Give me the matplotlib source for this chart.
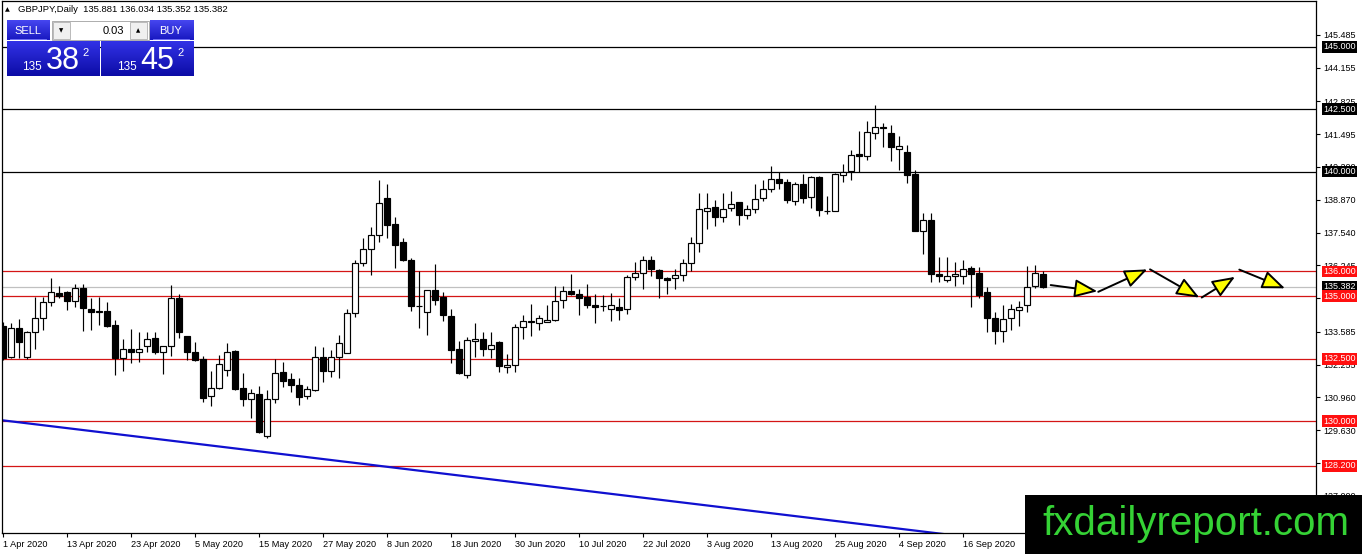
import numpy as np
import pandas as pd
import matplotlib
matplotlib.use("Agg")
import matplotlib.pyplot as plt
from matplotlib.colors import to_rgb
from matplotlib.patches import Rectangle

plt.rcParams['font.family'] = ['Liberation Sans', 'DejaVu Sans']

# daily bars, 1 Apr - 30 Sep 2020
dates = pd.bdate_range("2020-04-01", "2020-09-30")

opens = [133.82, 132.55, 133.71, 132.55, 133.55, 134.12, 134.76, 135.13, 135.19, 134.83,
         135.32, 134.49, 134.38, 134.40, 133.85, 132.51, 132.88, 132.78, 132.99, 133.31,
         132.75, 132.99, 134.92, 133.42, 132.75, 132.47, 131.01, 131.32, 132.05, 132.79,
         131.32, 130.88, 131.10, 129.41, 130.88, 131.97, 131.68, 131.46, 131.01, 131.25,
         132.58, 132.01, 132.58, 132.71, 134.34, 136.33, 136.89, 137.45, 138.96, 137.90,
         137.19, 136.46, 134.60, 134.36, 135.27, 134.96, 134.23, 132.87, 131.84, 133.22,
         133.30, 132.90, 133.18, 132.18, 132.26, 133.78, 133.96, 133.94, 133.98, 134.03,
         134.84, 135.23, 135.11, 134.99, 134.64, 134.60, 134.50, 134.56, 134.50, 135.79,
         135.93, 136.45, 136.05, 135.74, 135.75, 135.87, 136.33, 137.13, 138.41, 138.57,
         138.17, 138.53, 138.78, 138.25, 138.49, 138.95, 139.32, 139.72, 139.60, 138.83,
         139.52, 138.99, 139.80, 138.41, 138.41, 139.88, 140.03, 140.69, 140.62, 141.55,
         141.79, 141.55, 140.92, 140.77, 139.89, 137.60, 138.06, 135.91, 135.64, 135.80,
         135.80, 136.14, 135.94, 135.18, 134.12, 133.59, 134.12, 134.45, 134.65, 135.41,
         135.881]
highs = [133.95, 133.93, 134.09, 133.60, 134.96, 134.96, 135.72, 135.40, 135.23, 135.50,
         135.50, 134.92, 134.96, 134.76, 134.06, 133.29, 133.69, 133.55, 133.58, 133.55,
         133.00, 135.46, 135.09, 133.42, 133.15, 132.61, 131.99, 132.66, 133.14, 132.83,
         131.91, 131.28, 131.41, 131.25, 132.47, 132.38, 131.91, 131.74, 131.41, 133.01,
         132.98, 132.83, 133.43, 134.49, 136.46, 137.33, 137.79, 139.68, 139.52, 138.19,
         137.35, 136.53, 136.00, 135.24, 136.29, 135.16, 134.49, 133.20, 133.36, 133.94,
         133.56, 133.58, 133.20, 132.67, 133.87, 134.25, 134.68, 134.25, 134.64, 135.42,
         135.42, 135.89, 135.31, 135.48, 135.08, 135.05, 135.15, 134.95, 135.87, 136.38,
         136.60, 136.60, 136.11, 135.79, 136.09, 136.49, 137.36, 139.16, 139.16, 138.86,
         139.15, 139.22, 138.80, 138.65, 139.50, 139.68, 140.23, 140.00, 139.72, 139.60,
         139.92, 139.84, 139.84, 139.02, 139.96, 140.29, 140.85, 141.62, 142.02, 142.68,
         141.95, 141.85, 141.41, 141.05, 140.05, 138.35, 138.35, 136.57, 136.57, 136.36,
         136.47, 136.20, 136.17, 135.38, 134.38, 134.65, 134.69, 134.82, 136.22, 136.25,
         136.034]
lows = [132.45, 132.51, 132.51, 132.50, 132.88, 133.66, 134.63, 134.92, 134.46, 134.56,
        133.62, 133.66, 133.85, 133.76, 131.84, 132.01, 132.32, 132.35, 132.78, 132.68,
        131.88, 132.59, 133.31, 132.46, 132.42, 130.77, 130.61, 131.28, 131.81, 131.25,
        130.61, 130.11, 129.52, 129.31, 130.74, 131.38, 131.17, 130.64, 130.90, 131.21,
        131.57, 131.78, 131.73, 132.71, 134.18, 136.20, 135.86, 137.19, 137.33, 136.13,
        136.40, 134.40, 133.71, 133.44, 134.67, 134.00, 132.34, 131.87, 131.74, 132.57,
        132.61, 132.54, 131.97, 131.91, 131.98, 133.30, 133.40, 133.64, 133.96, 134.00,
        134.54, 135.04, 134.25, 134.54, 133.94, 134.41, 134.00, 134.07, 134.30, 135.66,
        135.28, 135.82, 134.95, 135.11, 135.31, 135.62, 136.01, 136.76, 137.70, 137.80,
        137.98, 138.41, 137.85, 138.09, 138.35, 138.83, 139.19, 139.30, 138.73, 138.67,
        138.75, 138.53, 138.23, 138.30, 138.41, 139.59, 139.65, 140.00, 140.48, 141.29,
        140.98, 140.42, 140.05, 139.55, 137.60, 136.71, 135.56, 135.56, 135.56, 135.41,
        135.51, 134.58, 134.95, 133.55, 133.09, 133.15, 133.63, 133.82, 134.37, 135.35,
        135.352]
closes = [132.51, 133.71, 133.15, 133.55, 134.12, 134.76, 135.16, 135.03, 134.80, 135.32,
          134.52, 134.38, 134.40, 133.82, 132.51, 132.88, 132.78, 132.88, 133.29, 132.75,
          132.99, 134.92, 133.55, 132.78, 132.46, 130.93, 131.33, 132.30, 132.78, 131.28,
          130.88, 131.14, 129.57, 130.88, 131.94, 131.62, 131.46, 130.97, 131.28, 132.58,
          132.01, 132.58, 133.11, 134.34, 136.33, 136.89, 137.45, 138.76, 137.86, 137.06,
          136.46, 134.60, 134.60, 135.24, 134.84, 134.27, 132.85, 131.94, 133.24, 133.30,
          132.90, 133.06, 132.21, 132.26, 133.78, 134.01, 133.99, 134.14, 134.05, 134.81,
          135.21, 135.09, 134.95, 134.65, 134.58, 134.60, 134.64, 134.46, 135.79, 135.95,
          136.44, 136.11, 135.75, 135.67, 135.87, 136.32, 137.13, 138.50, 138.53, 138.17,
          138.49, 138.69, 138.25, 138.49, 138.92, 139.32, 139.72, 139.55, 138.86, 139.52,
          138.94, 139.77, 138.46, 138.41, 139.89, 139.97, 140.65, 140.62, 141.57, 141.79,
          141.74, 140.98, 141.04, 139.87, 137.60, 138.06, 135.88, 135.80, 135.82, 135.90,
          136.11, 135.88, 135.05, 134.14, 133.61, 134.11, 134.48, 134.58, 135.38, 135.94,
          135.382]

black_levels = [145.0, 142.5, 140.0]
red_levels = [136.0, 135.0, 132.5, 130.0, 128.2]
bid_price = 135.382

# trendline anchors (bar index, price)
trend_x = [-0.375, 116.5]
trend_y = [130.04, 125.51]

# projected path drawn as arrows
proj_x0 = [130.96, 136.91, 143.38, 149.84, 154.54]
proj_y0 = [135.45, 135.18, 136.08, 134.95, 136.07]
proj_x1 = [136.79, 143.04, 149.54, 154.00, 160.25]
proj_y1 = [135.20, 136.08, 134.95, 135.78, 135.32]

ytick_vals = [145.485, 144.155, 142.825, 141.495, 140.200, 138.870, 137.540,
              136.245, 134.915, 133.585, 132.255, 130.960, 129.630, 128.300, 127.000]

W, H = 1362, 554
fig = plt.figure(figsize=(W / 100, H / 100), dpi=100)
ax = fig.add_axes([2 / W, 21 / H, 1314 / W, 532 / H])

x = np.arange(len(dates))
o = np.array(opens)
c = np.array(closes)
up = c >= o
bottom = np.minimum(o, c)
height = np.maximum(np.abs(c - o), 0.015)

ax.vlines(x, lows, highs, color='black', lw=0.85, zorder=3)
ax.bar(x[up], height[up], bottom=bottom[up], width=0.68, color='white',
       edgecolor='black', linewidth=0.85, zorder=4)
ax.bar(x[~up], height[~up], bottom=bottom[~up], width=0.68, color='black',
       edgecolor='black', linewidth=0.85, zorder=4)

for lvl in black_levels:
    ax.axhline(lvl, color='black', lw=0.9, zorder=2)
for lvl in red_levels:
    ax.axhline(lvl, color='#d41515', lw=0.9, zorder=2)
ax.axhline(bid_price, color='#c0c0c0', lw=0.9, zorder=1)

# trendline extended as a ray
slope = (trend_y[1] - trend_y[0]) / (trend_x[1] - trend_x[0])
tx = np.array([trend_x[0], 170])
ax.plot(tx, trend_y[0] + slope * (tx - trend_x[0]), color='#1010d0', lw=1.6, zorder=2)

for a, b, cc, d in zip(proj_x0, proj_y0, proj_x1, proj_y1):
    ax.annotate('', xy=(cc, d), xytext=(a, b),
                arrowprops=dict(arrowstyle='-|>,head_length=1.0,head_width=0.4',
                                mutation_scale=14, lw=1.4, facecolor='#ffff00',
                                edgecolor='black', shrinkA=0, shrinkB=0),
                zorder=5)

ax.set_xlim(-0.125, 164.125)
ax.set_ylim(125.51, 146.84)

ax.yaxis.tick_right()
ax.set_yticks(ytick_vals)
ax.set_yticklabels([f"{v:.3f}" for v in ytick_vals])
ax.tick_params(axis='y', direction='out', length=3, width=0.8, pad=2, labelsize=6.5)

tick_idx = x[::8]
ax.set_xticks(tick_idx)
ax.set_xticklabels([f"{dates[i].day} {dates[i].strftime('%b %Y')}" for i in tick_idx], ha='left')
ax.tick_params(axis='x', direction='out', length=3, width=0.8, pad=2, labelsize=6.6)
for sp in ax.spines.values():
    sp.set_linewidth(0.9)


def price_box(y, text, fc):
    ax.annotate(text, xy=(1, y), xycoords=ax.get_yaxis_transform(),
                xytext=(7, 0), textcoords='offset pixels', ha='left', va='center',
                color='white', fontsize=6.5, annotation_clip=False, zorder=6,
                bbox=dict(boxstyle='square,pad=0.15', fc=fc, ec='none'))


for lvl in black_levels:
    price_box(lvl, f"{lvl:.3f}", 'black')
price_box(bid_price, f"{bid_price:.3f}", 'black')
for lvl in red_levels:
    price_box(lvl, f"{lvl:.3f}", '#ff1010')

# overlay in pixel units: header, trade panel, watermark
ov = fig.add_axes([0, 0, 1, 1])
ov.set_zorder(10)


def grad_box(x0, y0, w, h, top, bot):
    g = np.linspace(0, 1, 40)[:, None, None]
    c0 = np.array(to_rgb(top))
    c1 = np.array(to_rgb(bot))
    img = c0 + (c1 - c0) * g
    ov.imshow(img, extent=(x0, x0 + w, y0 + h, y0), aspect='auto',
              interpolation='bilinear', zorder=1)


ov.text(7, 10, '\u25b2', fontsize=4.5, ha='center', va='center', family='DejaVu Sans')
ov.text(18, 10, 'GBPJPY,Daily  135.881 136.034 135.352 135.382', fontsize=6.8,
        va='center', ha='left')

grad_box(6.7, 20.5, 42.5, 20, '#4646f0', '#1818c0')
grad_box(149.5, 20.5, 43.5, 20, '#4646f0', '#1818c0')
ov.plot([10, 46], [39, 39], color='#8080ff', lw=0.6, zorder=2)
ov.plot([153, 189], [39, 39], color='#8080ff', lw=0.6, zorder=2)
ov.text(27.5, 30.5, 'SELL', color='white', fontsize=8, ha='center', va='center', zorder=3)
ov.text(171, 30.5, 'BUY', color='white', fontsize=8, ha='center', va='center', zorder=3)

ov.add_patch(Rectangle((51.7, 20.7), 97.3, 19.5, fc='white', ec='#a0a0a0', lw=0.6, zorder=2))
ov.add_patch(Rectangle((53, 22), 17, 17, fc='#f0f0f0', ec='#b0b0b0', lw=0.6, zorder=3))
ov.add_patch(Rectangle((130, 22), 17, 17, fc='#f0f0f0', ec='#b0b0b0', lw=0.6, zorder=3))
ov.text(61.5, 30.5, '\u25bc', fontsize=4, ha='center', va='center', family='DejaVu Sans', zorder=4)
ov.text(138.5, 30.5, '\u25b2', fontsize=4, ha='center', va='center', family='DejaVu Sans', zorder=4)
ov.text(124, 30.5, '0.03', fontsize=8, ha='right', va='center', zorder=4)

grad_box(6.7, 41.7, 92.3, 34.3, '#3232e6', '#0c0ca6')
grad_box(100.7, 41.7, 92.3, 34.3, '#3232e6', '#0c0ca6')
for x0, big in [(21.7, '38'), (116.7, '45')]:
    ov.text(x0, 69.5, '135', color='white', fontsize=8.5, ha='left', va='baseline', zorder=3)
    ov.text(x0 + 24, 69, big, color='white', fontsize=22, ha='left', va='baseline', zorder=3)
    ov.text(x0 + 61, 48.5, '2', color='white', fontsize=8, ha='left', va='top', zorder=3)

ov.add_patch(Rectangle((1025, 495), 337, 59, fc='black', ec='none', zorder=2))
ov.text(1042, 535, 'fxdailyreport.com', color='#35d235', fontsize=29,
        ha='left', va='baseline', zorder=3)

ov.set_xlim(0, W)
ov.set_ylim(H, 0)
ov.axis('off')

fig.savefig('out.png', dpi=100)
